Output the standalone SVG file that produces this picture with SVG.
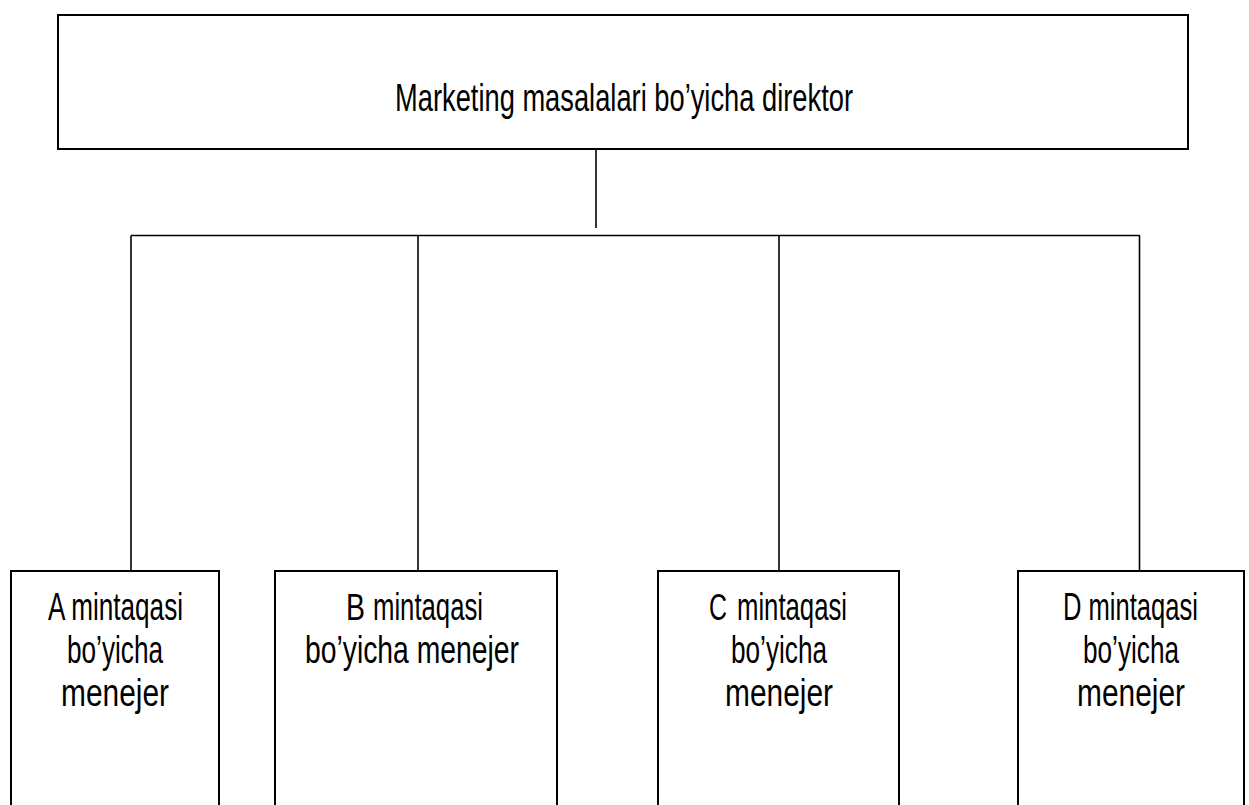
<svg xmlns="http://www.w3.org/2000/svg" width="1249" height="805" viewBox="0 0 1249 805">
  <style>
    .box { fill: #ffffff; stroke: #000000; stroke-width: 2; }
    .link { fill: none; stroke: #000000; stroke-width: 1.6; }
    .lbl { font-family: "Liberation Sans", Arial, sans-serif; font-size: 38px; fill: #000000; }
    .cap { font-family: "Liberation Sans", Arial, sans-serif; font-size: 37px; fill: #000000; }
  </style>

  <rect width="1249" height="805" fill="#ffffff"/>

  <!-- connectors: trunk, bus bar and drops to each regional box -->
  <g id="connectors">
    <line class="link" x1="596" y1="149" x2="596" y2="228"/>
    <line class="link" x1="131" y1="235.5" x2="1140" y2="235.5"/>
    <line class="link" x1="131" y1="235.5" x2="131" y2="571"/>
    <line class="link" x1="418" y1="235.5" x2="418" y2="571"/>
    <line class="link" x1="779" y1="235.5" x2="779" y2="571"/>
    <line class="link" x1="1139.5" y1="235.5" x2="1139.5" y2="571"/>
  </g>

  <!-- director -->
  <g id="director">
    <rect class="box" x="58" y="15" width="1130" height="134"/>
    <text class="lbl" x="395" y="111" textLength="458" lengthAdjust="spacingAndGlyphs">Marketing masalalari bo’yicha direktor</text>
  </g>

  <!-- region A -->
  <g id="manager-a">
    <rect class="box" x="11" y="571" width="208" height="260"/>
    <text class="lbl" x="48" y="620" textLength="135" lengthAdjust="spacingAndGlyphs">A mintaqasi</text>
    <text class="lbl" x="67" y="663" textLength="96" lengthAdjust="spacingAndGlyphs">bo’yicha</text>
    <text class="lbl" x="61" y="706" textLength="108" lengthAdjust="spacingAndGlyphs">menejer</text>
  </g>

  <!-- region B -->
  <g id="manager-b">
    <rect class="box" x="275" y="571" width="282" height="260"/>
    <text class="cap" x="346" y="620" textLength="19" lengthAdjust="spacingAndGlyphs">B</text>
    <text class="lbl" x="373" y="620" textLength="110" lengthAdjust="spacingAndGlyphs">mintaqasi</text>
    <text class="lbl" x="305" y="663" textLength="214" lengthAdjust="spacingAndGlyphs">bo’yicha menejer</text>
  </g>

  <!-- region C -->
  <g id="manager-c">
    <rect class="box" x="658" y="571" width="241" height="260"/>
    <text class="cap" x="709" y="620" textLength="18" lengthAdjust="spacingAndGlyphs">C</text>
    <text class="lbl" x="737" y="620" textLength="110" lengthAdjust="spacingAndGlyphs">mintaqasi</text>
    <text class="lbl" x="731" y="663" textLength="96" lengthAdjust="spacingAndGlyphs">bo’yicha</text>
    <text class="lbl" x="725" y="706" textLength="108" lengthAdjust="spacingAndGlyphs">menejer</text>
  </g>

  <!-- region D -->
  <g id="manager-d">
    <rect class="box" x="1018" y="571" width="226" height="260"/>
    <text class="lbl" x="1063" y="620" textLength="135" lengthAdjust="spacingAndGlyphs">D mintaqasi</text>
    <text class="lbl" x="1083" y="663" textLength="96" lengthAdjust="spacingAndGlyphs">bo’yicha</text>
    <text class="lbl" x="1077" y="706" textLength="108" lengthAdjust="spacingAndGlyphs">menejer</text>
  </g>
</svg>
